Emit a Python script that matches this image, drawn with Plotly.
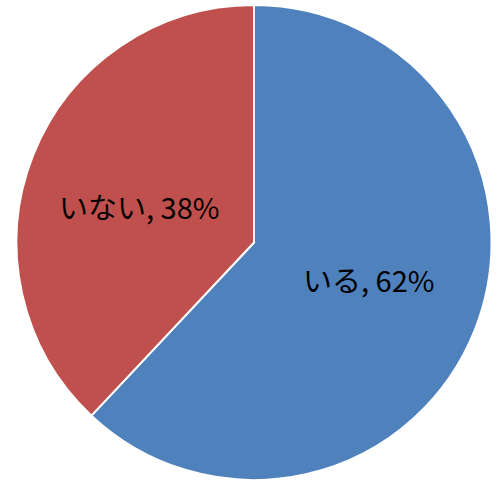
import math
import plotly.graph_objects as go

labels = ["いる", "いない"]
values = [62, 38]
colors = ["#4F81BD", "#C0504D"]

W, H = 499, 480
cx, cy, r = 254, 242.5, 237.5

fig = go.Figure(go.Pie(
    labels=labels,
    values=values,
    sort=False,
    direction="clockwise",
    rotation=0,
    marker=dict(colors=colors, line=dict(color="white", width=2)),
    textinfo="none",
    hoverinfo="label+percent",
    domain=dict(x=[max(0, (cx - r) / W), min(1, (cx + r) / W)],
                y=[max(0, 1 - (cy + r) / H), min(1, 1 - (cy - r) / H)]),
))

# data labels placed at each slice's mid-angle, about half the radius out
total = sum(values)
cum = 0
annotations = []
for lab, v in zip(labels, values):
    mid = (cum + v / 2) / total * 2 * math.pi
    cum += v
    px = cx + 0.52 * r * math.sin(mid)
    py = cy - 0.52 * r * 0.8 * math.cos(mid)
    annotations.append(dict(
        x=px / W, y=1 - py / H, xref="paper", yref="paper",
        text=f"{lab}, {v}%", showarrow=False,
        xanchor="center", yanchor="middle",
        font=dict(family="Noto Sans CJK JP", size=29, color="black"),
    ))

fig.update_layout(
    width=W, height=H,
    margin=dict(l=0, r=0, t=0, b=0),
    showlegend=False,
    paper_bgcolor="white",
    annotations=annotations,
)
fig.write_html("out.html", config={"displayModeBar": False},
               post_script="document.body.style.margin='0';")
